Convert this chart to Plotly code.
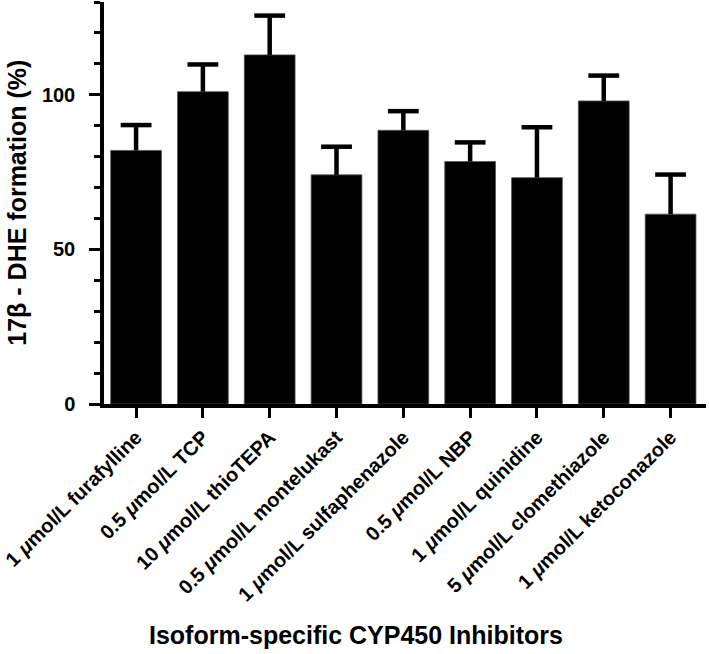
import plotly.graph_objects as go

categories = [
    "1 <i>μ</i>mol/L furafylline",
    "0.5 <i>μ</i>mol/L TCP",
    "10 <i>μ</i>mol/L thioTEPA",
    "0.5 <i>μ</i>mol/L montelukast",
    "1 <i>μ</i>mol/L sulfaphenazole",
    "0.5 <i>μ</i>mol/L NBP",
    "1 <i>μ</i>mol/L quinidine",
    "5 <i>μ</i>mol/L clomethiazole",
    "1 <i>μ</i>mol/L ketoconazole",
]
means = [82.0, 101.0, 112.9, 74.1, 88.5, 78.4, 73.2, 98.0, 61.4]
errors = [8.2, 8.8, 12.7, 9.1, 6.2, 6.2, 16.3, 8.2, 12.8]
ytick_vals = [0, 50, 100]

FONT = "Arial, Liberation Sans, Helvetica, sans-serif"

xs = list(range(len(categories)))
tops = [m + e for m, e in zip(means, errors)]

stem_x, stem_y = [], []
for i, m, t in zip(xs, means, tops):
    stem_x += [i, i, None]
    stem_y += [m, t, None]

fig = go.Figure()
fig.add_trace(go.Bar(
    x=xs,
    y=means,
    width=0.76,
    marker=dict(color="black", line=dict(color="#555555", width=0.8)),
    hoverinfo="skip",
))
fig.add_trace(go.Scatter(
    x=stem_x, y=stem_y, mode="lines",
    line=dict(color="black", width=4.5),
    hoverinfo="skip",
))
fig.add_trace(go.Scatter(
    x=xs, y=tops, mode="markers",
    marker=dict(symbol="line-ew", size=22, color="black",
                line=dict(color="black", width=4.5)),
    hoverinfo="skip",
))

fig.update_layout(
    width=709,
    height=654,
    margin=dict(l=104, r=3, t=2, b=250, autoexpand=False),
    paper_bgcolor="white",
    plot_bgcolor="white",
    showlegend=False,
    font=dict(family=FONT, color="black"),
    xaxis=dict(
        range=[-0.48, 8.53],
        tickmode="array",
        tickvals=xs,
        ticktext=categories,
        tickangle=-45,
        tickfont=dict(family=FONT, size=20, color="black", weight="bold"),
        showline=True,
        linecolor="black",
        linewidth=3.5,
        ticks="outside",
        ticklen=10,
        tickwidth=3,
        tickcolor="black",
        showgrid=False,
        zeroline=False,
        automargin=False,
    ),
    yaxis=dict(
        range=[0, 130],
        tickmode="array",
        tickvals=ytick_vals,
        tickfont=dict(family=FONT, size=20, color="black", weight="bold"),
        ticklabelstandoff=10,
        showline=True,
        linecolor="black",
        linewidth=3.5,
        ticks="outside",
        ticklen=11,
        tickwidth=3,
        tickcolor="black",
        minor=dict(dtick=10, tick0=0, ticks="outside", ticklen=6, tickwidth=2.5, tickcolor="black"),
        showgrid=False,
        zeroline=False,
        automargin=False,
    ),
    annotations=[
        dict(
            text="17β - DHE formation (%)",
            xref="paper", yref="paper",
            x=-0.146, y=0.501,
            xanchor="center", yanchor="middle",
            textangle=-90,
            showarrow=False,
            font=dict(family=FONT, size=25, color="black", weight="bold"),
        ),
        dict(
            text="Isoform-specific CYP450 Inhibitors",
            xref="paper", yref="paper",
            x=0.419, y=-0.575,
            xanchor="center", yanchor="middle",
            showarrow=False,
            font=dict(family=FONT, size=25, color="black", weight="bold"),
        ),
    ],
)

fig.write_html(
    "out.html",
    config={"displayModeBar": False},
    post_script="document.body.style.margin='0';document.body.style.overflow='hidden';",
)
